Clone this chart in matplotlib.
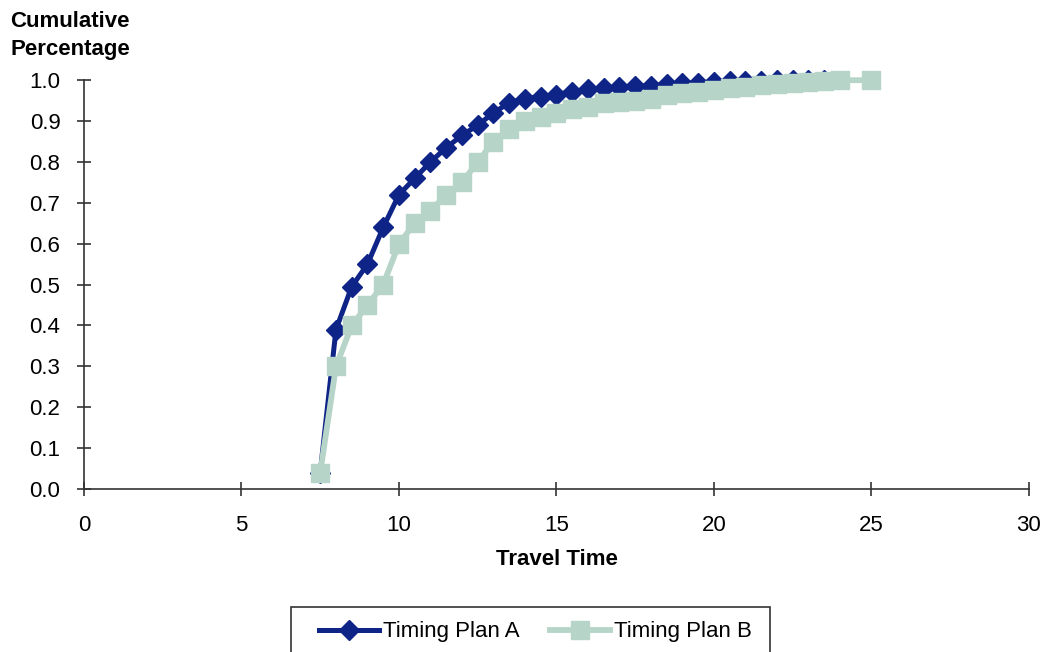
import matplotlib
matplotlib.use('Agg')
import matplotlib.pyplot as plt
from matplotlib.patches import Rectangle

plt.rcParams['font.family'] = ['Liberation Sans Narrow', 'Liberation Sans', 'DejaVu Sans']

# travel time (x) and cumulative percentage (y) for each timing plan
time_a = [7.5, 8.0, 8.5, 9.0, 9.5, 10.0, 10.5, 11.0, 11.5, 12.0, 12.5, 13.0, 13.5,
          14.0, 14.5, 15.0, 15.5, 16.0, 16.5, 17.0, 17.5, 18.0, 18.5, 19.0, 19.5,
          20.0, 20.5, 21.0, 21.5, 22.0, 22.5, 23.0, 23.5]
pct_a = [0.04, 0.39, 0.495, 0.55, 0.64, 0.72, 0.76, 0.80, 0.835, 0.865, 0.89, 0.92, 0.945,
         0.955, 0.96, 0.965, 0.972, 0.978, 0.981, 0.983, 0.985, 0.987, 0.99, 0.992, 0.994,
         0.996, 0.997, 0.998, 0.999, 1.0, 1.0, 1.0, 1.0]

time_b = [7.5, 8.0, 8.5, 9.0, 9.5, 10.0, 10.5, 11.0, 11.5, 12.0, 12.5, 13.0, 13.5,
          14.0, 14.5, 15.0, 15.5, 16.0, 16.5, 17.0, 17.5, 18.0, 18.5, 19.0, 19.5,
          20.0, 20.5, 21.0, 21.5, 22.0, 22.5, 23.0, 23.5, 24.0, 25.0]
pct_b = [0.04, 0.30, 0.40, 0.45, 0.50, 0.60, 0.65, 0.68, 0.72, 0.75, 0.80, 0.85, 0.88,
         0.90, 0.91, 0.92, 0.93, 0.935, 0.943, 0.947, 0.95, 0.955, 0.963, 0.968, 0.97,
         0.975, 0.98, 0.983, 0.988, 0.99, 0.993, 0.995, 0.997, 1.0, 1.0]

fig = plt.figure(figsize=(10.46, 6.52), dpi=100)
ax = fig.add_axes([0.0803, 0.25, 0.9034, 0.627])

ax.plot(time_a, pct_a, color='#0F2487', lw=3.6, marker='D', ms=10.5,
        label='Timing Plan A', zorder=3, clip_on=False)
ax.plot(time_b, pct_b, color='#B7D4C8', lw=4.2, marker='s', ms=13,
        label='Timing Plan B', zorder=4, clip_on=False)

ax.set_xlim(0, 30)
ax.set_ylim(0, 1.0)
ax.set_xticks(range(0, 31, 5))
ax.set_yticks([i / 10 for i in range(11)])
ax.set_yticklabels(['%.1f' % (i / 10) for i in range(11)])
ax.tick_params(direction='inout', length=10, width=1.2, labelsize=16, color='#333333')
ax.tick_params(axis='y', pad=12)
ax.tick_params(axis='x', pad=14)
for s in ['top', 'right']:
    ax.spines[s].set_visible(False)
for s in ['left', 'bottom']:
    ax.spines[s].set_color('#333333')
    ax.spines[s].set_linewidth(1.2)

ax.set_xlabel('Travel Time', fontsize=16, fontweight='bold', labelpad=9)
fig.text(0.01, 0.908, 'Cumulative\nPercentage', fontsize=16, fontweight='bold',
         ha='left', va='bottom', linespacing=1.45)

# legend box runs past the bottom edge, as in the source
fig.patches.append(Rectangle((0.278, -0.05), 0.458, 0.119, transform=fig.transFigure,
                             fill=False, edgecolor='#333333', linewidth=1.2))
leg = fig.legend(loc='center', bbox_to_anchor=(0.512, 0.031), ncol=2, fontsize=16,
                 frameon=False, handlelength=2.7, handletextpad=0.15,
                 columnspacing=1.4, borderaxespad=0)

fig.savefig('out.png', dpi=100)
